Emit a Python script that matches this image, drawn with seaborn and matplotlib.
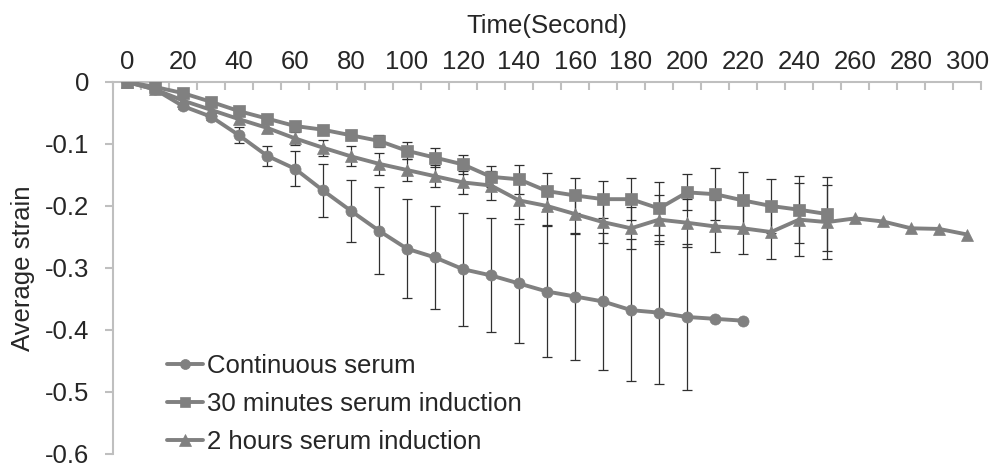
import matplotlib.pyplot as plt
import numpy as np
import pandas as pd
import seaborn as sns

# ================================
# Average strain vs time for three serum treatments
# ================================

series_names = ["Continuous serum", "30 minutes serum induction", "2 hours serum induction"]

time_points = [0, 10, 20, 30, 40, 50, 60, 70, 80, 90, 100, 110, 120, 130, 140, 150,
               160, 170, 180, 190, 200, 210, 220, 230, 240, 250, 260, 270, 280, 290, 300]

continuous = [0, -0.012, -0.039, -0.056, -0.086, -0.119, -0.140, -0.175, -0.208, -0.240,
              -0.269, -0.283, -0.302, -0.312, -0.325, -0.338, -0.346, -0.354, -0.368,
              -0.372, -0.379, -0.382, -0.385]
continuous_err = [0, 0.002, 0.004, 0.006, 0.013, 0.016, 0.028, 0.042, 0.050, 0.070,
                  0.080, 0.083, 0.091, 0.092, 0.096, 0.106, 0.103, 0.110, 0.114,
                  0.115, 0.118, 0, 0]

min30 = [0, -0.008, -0.018, -0.032, -0.047, -0.059, -0.071, -0.077, -0.086, -0.095,
         -0.111, -0.122, -0.133, -0.153, -0.157, -0.176, -0.183, -0.189, -0.189,
         -0.204, -0.178, -0.181, -0.191, -0.200, -0.206, -0.213]
min30_err = [0, 0.002, 0.003, 0.004, 0.005, 0.006, 0.007, 0.006, 0.008, 0.010,
             0.014, 0.015, 0.016, 0.017, 0.023, 0.029, 0.028, 0.030, 0.034,
             0.043, 0.029, 0.042, 0.046, 0.043, 0.054, 0.059]

hours2 = [0, -0.012, -0.030, -0.045, -0.060, -0.074, -0.091, -0.106, -0.120, -0.132,
          -0.142, -0.152, -0.162, -0.167, -0.191, -0.200, -0.213, -0.226, -0.236,
          -0.222, -0.227, -0.233, -0.236, -0.242, -0.222, -0.226, -0.220, -0.225,
          -0.236, -0.237, -0.246]
hours2_err = [0, 0.002, 0.004, 0.005, 0.007, 0.008, 0.010, 0.013, 0.016, 0.018,
              0.018, 0.018, 0.018, 0.024, 0.030, 0.031, 0.032, 0.034, 0.034,
              0.039, 0.039, 0.042, 0.041, 0.043, 0.059, 0.060, 0, 0, 0, 0, 0]

x_tick_vals = [0, 20, 40, 60, 80, 100, 120, 140, 160, 180, 200, 220, 240, 260, 280, 300]
x_tick_labels = ["0", "20", "40", "60", "80", "100", "120", "140", "160", "180",
                 "200", "220", "240", "260", "280", "300"]
y_tick_vals = [0, -0.1, -0.2, -0.3, -0.4, -0.5, -0.6]
y_tick_labels = ["0", "-0.1", "-0.2", "-0.3", "-0.4", "-0.5", "-0.6"]

sns.set_style("white")
plt.rcParams["font.family"] = ["Liberation Sans", "DejaVu Sans"]

grey = "#808080"
axis_grey = "#bfbfbf"
fs = 18.5

fig, ax = plt.subplots(figsize=(9.95, 4.69), dpi=100)
fig.subplots_adjust(left=0.1136, right=0.986, top=0.8252, bottom=0.032)

all_vals = [continuous, min30, hours2]
all_errs = [continuous_err, min30_err, hours2_err]
markers = ["o", "s", "^"]
msizes = [8, 8, 9]

for name, vals, errs, mk, ms in zip(series_names, all_vals, all_errs, markers, msizes):
    df = pd.DataFrame({"time": time_points[:len(vals)], "strain": vals, "err": errs})
    bars = df[df["err"] > 0]
    ax.errorbar(bars["time"], bars["strain"], yerr=bars["err"], fmt="none",
                ecolor="#303030", elinewidth=0.9, capsize=3.5, capthick=0.9, zorder=2)
    sns.lineplot(data=df, x="time", y="strain", ax=ax, color=grey, lw=2.8,
                 marker=mk, markersize=ms, markeredgecolor=grey, markeredgewidth=0.5,
                 label=name, errorbar=None, zorder=3)

ax.set_xlim(-5, 305)
ax.set_ylim(-0.6, 0)

ax.xaxis.tick_top()
ax.xaxis.set_label_position("top")
ax.set_xticks(x_tick_vals)
ax.set_xticklabels(x_tick_labels)
ax.set_xticks(np.arange(-5, 306, 10), minor=True)
ax.tick_params(axis="x", which="major", length=0, pad=6, labelsize=fs, top=True, bottom=False)
ax.tick_params(axis="x", which="minor", direction="in", length=6, width=1.5,
               color=axis_grey, top=True, bottom=False)

ax.set_yticks(y_tick_vals)
ax.set_yticklabels(y_tick_labels)
ax.tick_params(axis="y", direction="out", length=6, width=1.5, color=axis_grey,
               pad=11, labelsize=fs, left=True)

for side in ["right", "bottom"]:
    ax.spines[side].set_visible(False)
for side in ["top", "left"]:
    ax.spines[side].set_color(axis_grey)
    ax.spines[side].set_linewidth(1.5)

ax.set_xlabel("Time(Second)", fontsize=fs, labelpad=12)
ax.set_ylabel("Average strain", fontsize=fs, labelpad=7)

ax.legend(loc="lower left", bbox_to_anchor=(0.062, 0.0), frameon=False, fontsize=fs,
          handlelength=1.4, handletextpad=0.15, labelspacing=0.55, borderpad=0,
          borderaxespad=0, markerscale=0.9)

plt.savefig("out.png", dpi=100)
